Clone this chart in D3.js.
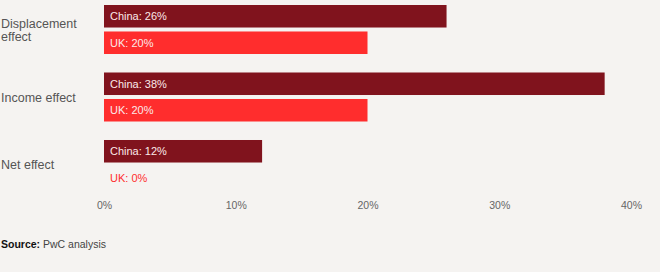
<!DOCTYPE html>
<html>
<head>
<meta charset="utf-8">
<script src="https://cdn.jsdelivr.net/npm/d3@7"></script>
<style>
  body { margin: 0; background: #f5f3f1; }
  svg { display: block; font-family: Helvetica, Arial, "Liberation Sans", sans-serif; }
</style>
</head>
<body>
<div id="chart"></div>
<script>
// Data
var categories = ["Displacement effect", "Income effect", "Net effect"];
var categoryLines = [["Displacement", "effect"], ["Income effect"], ["Net effect"]];
var seriesNames = ["China", "UK"];
var chinaValues = [26, 38, 12];
var ukValues = [20, 20, 0];
var tickValues = [0, 10, 20, 30, 40];

var svgWidth = 660;
var svgHeight = 272;
var colors = { China: "#80131d", UK: "#ff2d2d" };

var svg = d3.select("#chart").append("svg")
  .attr("width", svgWidth)
  .attr("height", svgHeight);

var rows = categories.map(function(c, i) {
  return { cat: c, lines: categoryLines[i], China: chinaValues[i], UK: ukValues[i] };
});

// Scales
var x = d3.scaleLinear().domain([0, 40]).range([104, 631]);
var y = d3.scaleBand().domain(categories).range([5, 189]).paddingInner(0.274).paddingOuter(0);
var y1 = d3.scaleBand().domain(seriesNames).range([0, y.bandwidth()]).paddingInner(0.15);

// Category labels
var catLabels = svg.append("g").selectAll("text")
  .data(rows)
  .enter().append("text")
  .attr("x", 1)
  .attr("y", function(d) {
    var mid = y(d.cat) + y.bandwidth() / 2;
    return mid - (d.lines.length - 1) * 6.5 + 4.5;
  })
  .attr("fill", "#555")
  .style("font-size", "12.5px");
catLabels.each(function(d) {
  var t = d3.select(this);
  d.lines.forEach(function(line, j) {
    t.append("tspan").attr("x", 1).attr("dy", j === 0 ? 0 : 13).text(line);
  });
});

// Bars
var groups = svg.append("g").selectAll("g")
  .data(rows)
  .enter().append("g")
  .attr("transform", function(d) { return "translate(0," + y(d.cat) + ")"; });

groups.selectAll("rect")
  .data(function(d) { return seriesNames.map(function(s) { return { s: s, v: d[s] }; }); })
  .enter().append("rect")
  .attr("x", x(0))
  .attr("y", function(d) { return y1(d.s); })
  .attr("width", function(d) { return x(d.v) - x(0); })
  .attr("height", y1.bandwidth())
  .attr("fill", function(d) { return colors[d.s]; });

groups.selectAll("text")
  .data(function(d) { return seriesNames.map(function(s) { return { s: s, v: d[s] }; }); })
  .enter().append("text")
  .attr("x", x(0) + 6)
  .attr("y", function(d) { return y1(d.s) + y1.bandwidth() / 2 + 4; })
  .attr("fill", function(d) { return d.v > 0 ? "#fbe9e9" : colors[d.s]; })
  .style("font-size", "11px")
  .text(function(d) { return d.s + ": " + d.v + "%"; });

// x axis
var xAxis = d3.axisBottom(x).tickValues(tickValues).tickSize(0).tickPadding(0)
  .tickFormat(function(d) { return d + "%"; });
var axisG = svg.append("g").attr("transform", "translate(0,202)").call(xAxis);
axisG.select(".domain").remove();
axisG.selectAll("text")
  .attr("fill", "#666")
  .style("font-size", "10.5px")
  .style("font-family", "Helvetica, Arial, 'Liberation Sans', sans-serif");

// Source
var src = svg.append("text")
  .attr("x", 1)
  .attr("y", 248)
  .style("font-size", "10.5px")
  .attr("fill", "#444");
src.append("tspan").style("font-weight", "bold").attr("fill", "#111").text("Source: ");
src.append("tspan").text("PwC analysis");
</script>
</body>
</html>
